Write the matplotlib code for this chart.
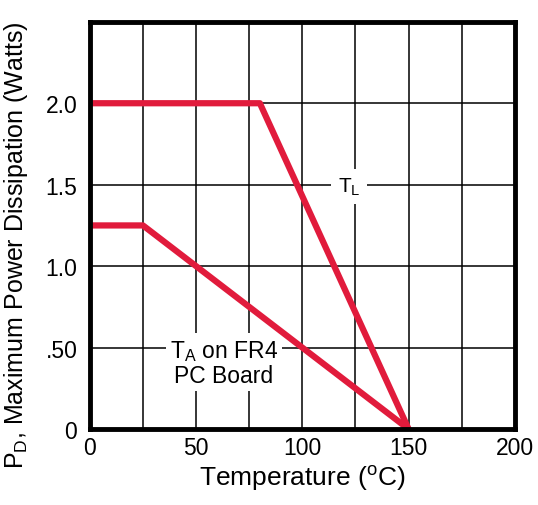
import matplotlib
matplotlib.use("Agg")
import matplotlib.pyplot as plt

plt.rcParams['font.family'] = ['Liberation Sans', 'DejaVu Sans']
plt.rcParams['mathtext.fontset'] = 'custom'
plt.rcParams['mathtext.rm'] = 'Liberation Sans'

# derating curves (temperature in C, power in W)
tl_temp = [0, 80, 150]
tl_pd = [2.0, 2.0, 0.0]
ta_temp = [0, 25, 150]
ta_pd = [1.25, 1.25, 0.0]

xticks = [0, 50, 100, 150, 200]
xtick_labels = ['0', '50', '100', '150', '200']
yticks = [0, 0.5, 1.0, 1.5, 2.0]
ytick_labels = ['0', '.50', '1.0', '1.5', '2.0']

red = '#E11B3C'

fig = plt.figure(figsize=(5.38, 5.06), dpi=100)
ax = fig.add_axes([0.167, 0.150, 0.790, 0.805])

ax.plot(tl_temp, tl_pd, color=red, lw=4.5, zorder=4, solid_capstyle='butt')
ax.plot(ta_temp, ta_pd, color=red, lw=4.5, zorder=4, solid_capstyle='butt')

ax.set_xlim(0, 200)
ax.set_ylim(0, 2.5)
ax.set_xticks(xticks)
ax.set_xticklabels(xtick_labels)
ax.set_xticks(range(0, 201, 25), minor=True)
ax.set_yticks(yticks)
ax.set_yticklabels(ytick_labels)
ax.grid(True, which='both', color='black', lw=1.1)
ax.set_axisbelow(True)
ax.tick_params(which='both', length=0)
ax.tick_params(axis='x', labelsize=16.5, pad=5)
ax.tick_params(axis='y', labelsize=16.5, pad=9)

for s in ax.spines.values():
    s.set_linewidth(3.5)
    s.set_zorder(5)

ax.text(122, 1.49, r'T$_\mathregular{L}$', fontsize=15, ha='center', va='center',
        zorder=3, bbox=dict(facecolor='white', edgecolor='none', pad=5))
ax.text(63, 0.41, 'T$_\\mathregular{A}$ on FR4\nPC Board', fontsize=16.5, ha='center',
        va='center', linespacing=1.05, zorder=3,
        bbox=dict(facecolor='white', edgecolor='none', pad=3))

ax.set_xlabel(r'Temperature ($\mathregular{^o}$C)', fontsize=19, labelpad=3)
ax.set_ylabel(r'P$_\mathregular{D}$, Maximum Power Dissipation (Watts)', fontsize=18)
ax.yaxis.set_label_coords(-0.14, 0.455)

fig.savefig('out.png', dpi=100)
